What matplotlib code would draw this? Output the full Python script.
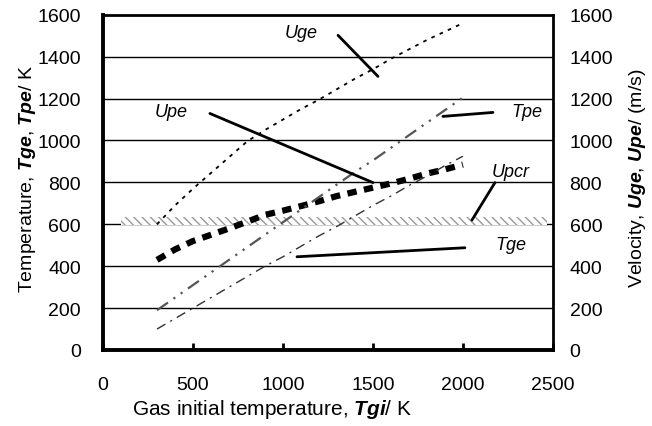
import matplotlib
matplotlib.use("Agg")
import matplotlib.pyplot as plt

plt.rcParams['font.family'] = ['Liberation Sans', 'DejaVu Sans']
plt.rcParams['mathtext.fontset'] = 'custom'
plt.rcParams['mathtext.rm'] = 'Liberation Sans'
plt.rcParams['mathtext.it'] = 'Liberation Sans:italic'
plt.rcParams['mathtext.bf'] = 'Liberation Sans:bold'
plt.rcParams['mathtext.bfit'] = 'Liberation Sans:italic:bold'

# gas initial temperature, K
tgi = [300, 400, 500, 600, 700, 800, 900, 1000, 1100, 1200, 1300,
       1400, 1500, 1600, 1700, 1800, 1900, 2000]
# velocities, m/s
uge = [600, 690, 770, 845, 920, 995, 1050, 1100, 1150, 1195, 1245,
       1295, 1340, 1390, 1435, 1480, 1520, 1560]
upe = [430, 480, 520, 550, 580, 612, 645, 665, 687, 710, 735,
       755, 775, 795, 817, 842, 862, 885]
# temperatures, K
tpe = [190, 250, 310, 370, 430, 490, 550, 610, 670, 730, 790,
       850, 905, 965, 1025, 1085, 1145, 1205]
tge = [100, 150, 200, 250, 300, 350, 400, 445, 495, 545, 590,
       640, 690, 735, 785, 830, 880, 925]
# critical velocity band
upcr_x = [100, 2470]
upcr_lo = 595
upcr_hi = 635

fig = plt.figure(figsize=(6.52, 4.27), dpi=100)
ax = fig.add_axes([0.158, 0.178, 0.69, 0.785])

for y in range(200, 1600, 200):
    ax.axhline(y, color='black', lw=1.0, zorder=1)

ax.fill_between(upcr_x, upcr_lo, upcr_hi, facecolor='white', edgecolor='#999999',
                hatch='\\\\\\\\', lw=0, zorder=2)

ax.plot(tgi, uge, color='black', lw=1.3, dashes=(2, 3), zorder=3)
ax.plot(tgi, upe, color='black', lw=4.5, dashes=(1.5, 1.2), zorder=3)
ax.plot(tgi, tpe, color='#555555', lw=1.6, dashes=(6, 3, 1, 3, 1, 3), zorder=3)
ax.plot(tgi, tge, color='#333333', lw=1.0, dashes=(7, 4, 1.5, 4), zorder=3)

# curve labels and their leader lines
lab = dict(fontsize=13, style='italic', va='center', ha='left')
ax.text(1010, 1515, 'Uge', **lab)
ax.text(289, 1140, 'Upe', **lab)
ax.text(2272, 1138, 'Tpe', **lab)
ax.text(2161, 850, 'Upcr', **lab)
ax.text(2178, 503, 'Tge', **lab)

lead = dict(arrowstyle='-', lw=2, color='black', shrinkA=0, shrinkB=0)
ax.annotate('', xy=(1528, 1306), xytext=(1306, 1502), arrowprops=lead)
ax.annotate('', xy=(1500, 799), xytext=(594, 1129), arrowprops=lead)
ax.annotate('', xy=(1889, 1115), xytext=(2167, 1134), arrowprops=lead)
ax.annotate('', xy=(2050, 620), xytext=(2178, 799), arrowprops=lead)
ax.annotate('', xy=(1078, 445), xytext=(2011, 488), arrowprops=lead)

ax.set_xlim(0, 2500)
ax.set_ylim(0, 1600)
ax.set_xticks(range(0, 2501, 500))
ax.set_yticks(range(0, 1601, 200))
ax.tick_params(axis='x', direction='in', length=5, width=2, labelsize=14, pad=19)
ax.tick_params(axis='y', length=0, labelsize=14, pad=16)
for s in ['left', 'bottom']:
    ax.spines[s].set_linewidth(2.8)
for s in ['top', 'right']:
    ax.spines[s].set_linewidth(2.0)

ax2 = ax.twinx()
ax2.set_ylim(0, 1600)
ax2.set_yticks(range(0, 1601, 200))
ax2.tick_params(axis='y', length=0, labelsize=14, pad=12)
for s in ax2.spines.values():
    s.set_visible(False)

ax.text(0.376, -0.174, r'Gas initial temperature, $\mathbfit{Tgi}$/ K', fontsize=15,
        ha='center', va='center', transform=ax.transAxes)
ax.text(-0.167, 0.515, r'Temperature, $\mathbfit{Tge}$, $\mathbfit{Tpe}$/ K', fontsize=14,
        rotation=90, ha='center', va='center', transform=ax.transAxes)
ax.text(1.188, 0.515, r'Velocity, $\mathbfit{Uge}$, $\mathbfit{Upe}$/ (m/s)', fontsize=14,
        rotation=90, ha='center', va='center', transform=ax.transAxes)

fig.savefig('out.png', dpi=100)
